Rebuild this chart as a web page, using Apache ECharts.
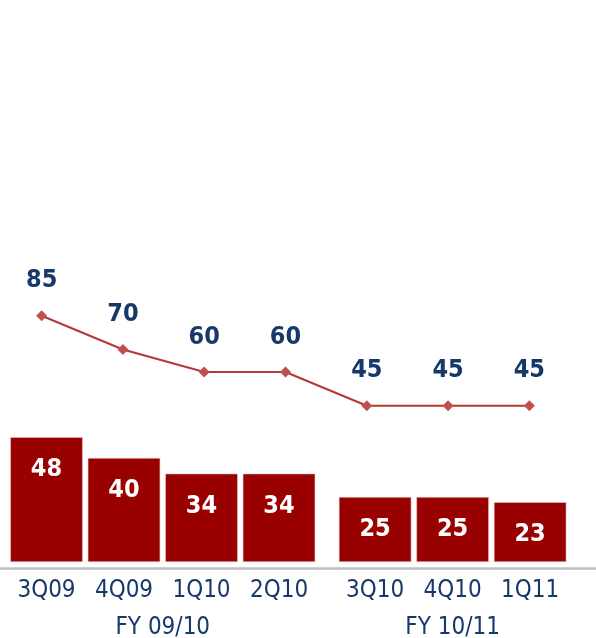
<!DOCTYPE html>
<html>
<head>
<meta charset="utf-8">
<style>
  html, body { margin: 0; padding: 0; background: #ffffff; }
  #chart { width: 596px; height: 638px; }
</style>
<script src="https://cdn.jsdelivr.net/npm/echarts@6/dist/echarts.min.js"></script>
</head>
<body>
<div id="chart"></div>
<script>
// Quarterly figures, grouped by fiscal year
const categories = ['3Q09', '4Q09', '1Q10', '2Q10', '3Q10', '4Q10', '1Q11'];
const fiscalYears = ['FY 09/10', 'FY 10/11'];
const yearOfQuarter = [0, 0, 0, 0, 1, 1, 1];
const barValues = [48, 40, 34, 34, 25, 25, 23];
const lineValues = [85, 70, 60, 60, 45, 45, 45];

// Bars sit on a value axis so the two fiscal years can be separated by a small gap
const YEAR_GAP = 0.24;
const slots = categories.map((c, i) => i + yearOfQuarter[i] * YEAR_GAP);
const yearCenters = fiscalYears.map((y, k) => {
  const s = slots.filter((v, i) => yearOfQuarter[i] === k);
  return s.reduce((a, b) => a + b, 0) / s.length;
});
const nearestIndex = (arr, v) => arr.findIndex(x => Math.abs(x - v) < 1e-6);

const FONT = "'DejaVu Sans Condensed', 'Liberation Sans', sans-serif";
const NAVY = '#17396a';

const chart = echarts.init(document.getElementById('chart'), null, { renderer: 'canvas' });

chart.setOption({
  animation: false,
  backgroundColor: '#ffffff',
  grid: [
    { left: 0, right: 0, top: 42, bottom: 76, outerBoundsMode: 'none', containLabel: false },
    { left: 1, right: 26, top: 57, bottom: 131, outerBoundsMode: 'none', containLabel: false }
  ],
  xAxis: [
    {
      type: 'value', gridIndex: 0, min: -0.6, max: 7.09,
      position: 'bottom', offset: 6,
      splitLine: { show: false },
      axisTick: { show: false },
      axisLine: { show: true, onZero: false, lineStyle: { color: '#c0c0c0', width: 2.5 } },
      axisLabel: {
        customValues: slots,
        formatter: v => categories[nearestIndex(slots, v)] || '',
        color: NAVY, fontFamily: FONT, fontSize: 24, margin: 11
      }
    },
    {
      type: 'value', gridIndex: 0, min: -0.6, max: 7.09,
      position: 'bottom', offset: 6,
      splitLine: { show: false },
      axisTick: { show: false },
      axisLine: { show: false, onZero: false },
      axisLabel: {
        customValues: yearCenters,
        formatter: v => fiscalYears[nearestIndex(yearCenters, v)] || '',
        color: NAVY, fontFamily: FONT, fontSize: 24, margin: 48
      }
    },
    {
      type: 'category', gridIndex: 1, data: categories,
      boundaryGap: true, show: false
    }
  ],
  yAxis: [
    { type: 'value', gridIndex: 0, min: 0, max: 200, show: false },
    { type: 'value', gridIndex: 1, min: 0, max: 200, show: false }
  ],
  series: [
    {
      type: 'bar',
      xAxisIndex: 0, yAxisIndex: 0,
      barWidth: 72.5,
      data: slots.map((s, i) => [s, barValues[i]]),
      itemStyle: { color: '#990000', borderColor: '#e6c4c4', borderWidth: 0.6 },
      label: {
        show: true, position: 'insideTop', distance: 20,
        formatter: p => p.value[1],
        color: '#ffffff', fontFamily: FONT, fontWeight: 'bold', fontSize: 25
      }
    },
    {
      type: 'line',
      xAxisIndex: 2, yAxisIndex: 1,
      data: lineValues,
      symbol: 'diamond', symbolSize: 11,
      lineStyle: { color: '#b73636', width: 2 },
      itemStyle: { color: '#c0504d' },
      label: {
        show: true, position: 'top', distance: 17,
        color: NAVY, fontFamily: FONT, fontWeight: 'bold', fontSize: 25
      }
    }
  ]
});
</script>
</body>
</html>
